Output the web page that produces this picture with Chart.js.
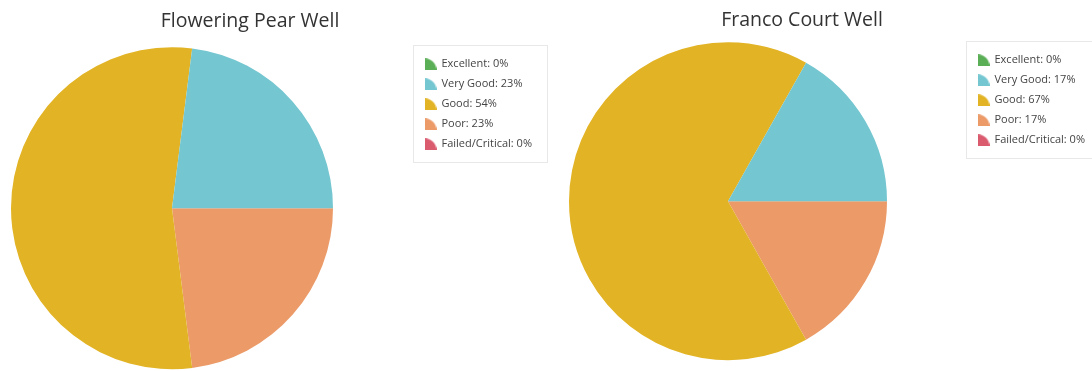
<!DOCTYPE html>
<html>
<head>
<meta charset="utf-8">
<script src="https://cdn.jsdelivr.net/npm/chart.js@4/dist/chart.umd.min.js"></script>
<style>
    body { margin: 0; background: #fff; overflow: hidden; width: 1092px; height: 371px; position: relative; }
    canvas { position: absolute; top: 0; }
</style>
</head>
<body>
<canvas id="pear-chart" width="644" height="371" style="left:-72px"></canvas>
<canvas id="franco-chart" width="630" height="371" style="left:487px"></canvas>
<script>
// Condition ratings, legend order
const categories = ["Excellent", "Very Good", "Good", "Poor", "Failed/Critical"];
const pearValues = [0, 23, 54, 23, 0];
const francoValues = [0, 17, 67, 17, 0];
const ratingColors = ['#5aae55', '#74c6d0', '#e2b324', '#eb9a68', '#da5a6e'];

// little pie-wedge icons for the legend
const wedgeIcon = color => {
    const c = document.createElement('canvas');
    c.width = 12;
    c.height = 12;
    const ctx = c.getContext('2d');
    ctx.fillStyle = color;
    ctx.beginPath();
    ctx.moveTo(0, 12);
    ctx.lineTo(0, 0);
    ctx.arc(0, 12, 12, -Math.PI / 2, 0);
    ctx.closePath();
    ctx.fill();
    return c;
};
const wedges = ratingColors.map(wedgeIcon);

// fixed legend width, so the title sits where it should over the whole canvas
const legendWidth = w => ({
    id: 'legendWidth',
    beforeInit(chart) {
        const fit = chart.legend.fit;
        chart.legend.fit = function () {
            fit.call(this);
            this.width = w;
        };
    }
});

// faint frame round the legend items
const legendFrame = {
    id: 'legendFrame',
    afterDraw(chart) {
        const boxes = chart.legend.legendHitBoxes;
        if (!boxes || !boxes.length) return;
        const first = boxes[0];
        const last = boxes[boxes.length - 1];
        const right = Math.max(...boxes.map(b => b.left + b.width));
        const ctx = chart.ctx;
        ctx.save();
        ctx.strokeStyle = '#e8e8e8';
        ctx.lineWidth = 1;
        ctx.strokeRect(Math.round(first.left - 12) + 0.5, Math.round(first.top - 14) + 0.5,
            Math.round(right + 15 - first.left + 12), Math.round(last.top + last.height + 12 - first.top + 14));
        ctx.restore();
    }
};

// Pie charts (drawn counter-clockwise from 3 o'clock, so feed the slices reversed)
function wellChart(canvasId, titleText, values, opts) {
    const order = categories.map((c, i) => categories.length - 1 - i);
    return new Chart(document.getElementById(canvasId), {
        type: 'pie',
        data: {
            labels: order.map(i => categories[i]),
            datasets: [{
                data: order.map(i => values[i]),
                backgroundColor: order.map(i => ratingColors[i]),
                borderWidth: 0,
                hoverBorderWidth: 0,
                radius: opts.radius,
                clip: false
            }]
        },
        options: {
            responsive: false,
            animation: false,
            rotation: 90,
            layout: { padding: { bottom: opts.bottom } },
            plugins: {
                title: {
                    display: true,
                    text: titleText,
                    color: '#333',
                    font: { family: 'Open Sans', size: 19.5, weight: 'normal' },
                    padding: { top: opts.titleTop, bottom: opts.titleBottom }
                },
                legend: {
                    position: 'right',
                    align: 'start',
                    fullSize: false,
                    labels: {
                        usePointStyle: true,
                        boxWidth: 11,
                        padding: 9,
                        color: '#444',
                        font: { family: 'Open Sans', size: 11 },
                        generateLabels: () => categories.map((name, i) => ({
                            text: `${name}: ${values[i]}%`,
                            fillStyle: ratingColors[i],
                            strokeStyle: ratingColors[i],
                            lineWidth: 0,
                            pointStyle: wedges[i],
                            fontColor: '#444',
                            hidden: false,
                            index: categories.length - 1 - i
                        }))
                    }
                },
                tooltip: { enabled: false }
            }
        },
        plugins: [legendWidth(opts.legendWidth), legendFrame]
    });
}

let pearChart = wellChart('pear-chart', 'Flowering Pear Well', pearValues, {
    radius: 161, bottom: 4.5, titleTop: 9.7, titleBottom: 16.7, legendWidth: 156
});
let francoChart = wellChart('franco-chart', 'Franco Court Well', francoValues, {
    radius: 159, bottom: 14.5, titleTop: 8.7, titleBottom: 13.7, legendWidth: 148
});
</script>
</body>
</html>
